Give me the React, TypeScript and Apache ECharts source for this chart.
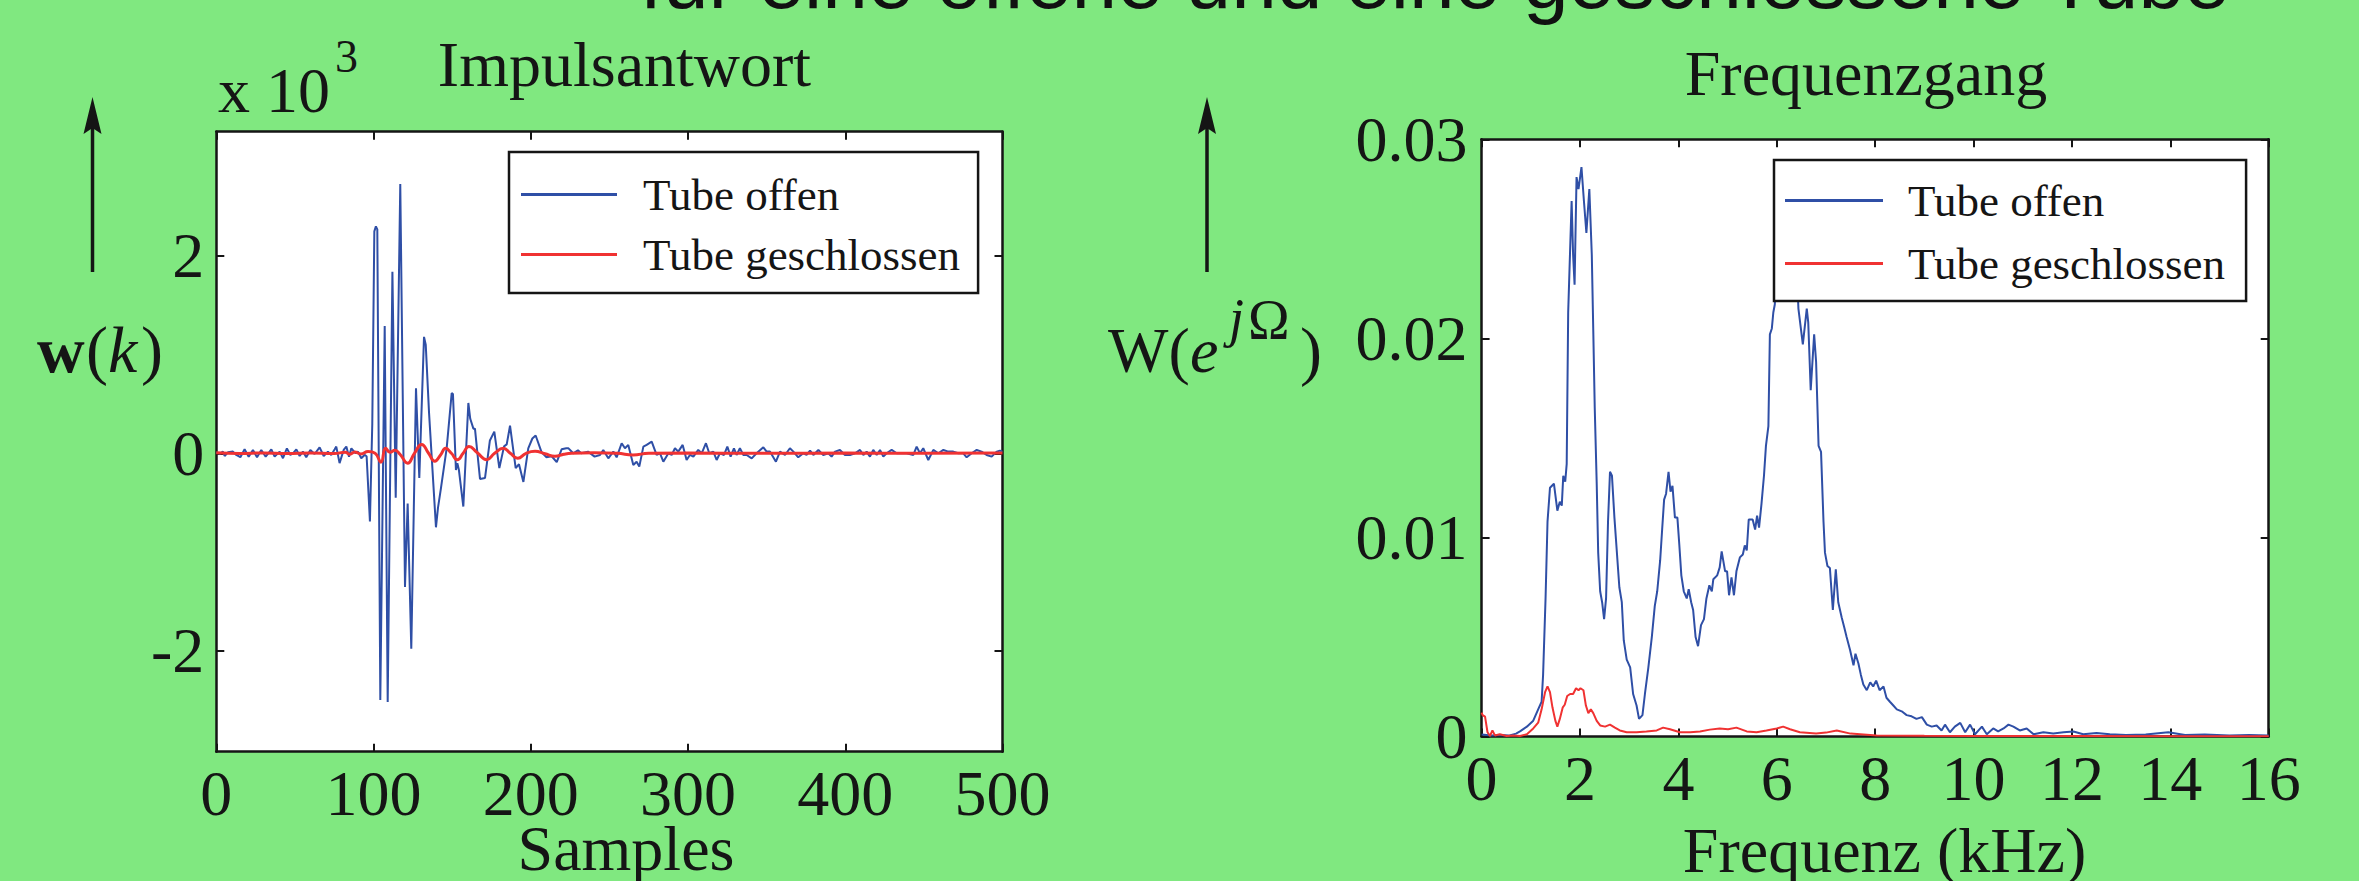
import React, { useEffect, useRef } from "react";
import * as echarts from "echarts";

// ---------- data ----------
// Impulsantwort, x = sample index, y = value (x 10^3)
const impulseOpen: [number, number][] = [
  [0, 0.01], [2.1, -0.007], [4.2, 0.017], [5.3, -0.027], [7.4, 0.01], [10.6, 0.017], [12.7, -0.017], [15.3, -0.04],
  [18, 0.04], [20.6, -0.034], [23.3, 0.034], [25.9, -0.04], [28.6, 0.034], [31.4, -0.034], [33.9, 0.017], [35, 0.04],
  [37.1, -0.034], [40.3, 0.017], [42.4, -0.05], [44.9, 0.05], [47.1, -0.017], [49.2, 0.007], [50.9, 0.04], [53, -0.027],
  [55.1, 0.017], [57.2, -0.04], [59.8, 0.034], [62.5, -0.007], [65.7, 0.06], [68.3, -0.027], [71, 0.017], [73.1, -0.017],
  [75.3, 0.04], [76.3, 0.068], [78.4, -0.1], [81, 0.034], [82.7, 0.068], [84.4, -0.034], [85.9, 0.05], [88.6, 0],
  [90.1, 0.017], [92.2, -0.05], [94.3, -0.017], [95.6, -0.03], [97.7, -0.69], [99.2, 0.3], [100.5, 2.25], [101.5, 2.3],
  [102.4, 2.27], [104.3, -2.5], [107.1, 1.29], [109, -2.52], [112, 1.84], [114.1, -0.45], [117, 2.73], [120, -1.355],
  [121.7, -0.51], [124, -1.98], [127, 0.66], [129.1, -0.25], [132.1, 1.18], [133.2, 1.1], [135.3, 0.41], [139.7, -0.75],
  [141, -0.55], [142.9, -0.35], [146.5, 0.05], [149.7, 0.61], [150.5, 0.6], [152.4, -0.17], [153.3, -0.1], [154.3, -0.17],
  [157.1, -0.54], [160.3, 0.51], [161.5, 0.35], [163.5, 0.25], [164.5, 0.25], [167.7, -0.26], [170.9, -0.25], [174, 0.13],
  [176.8, 0.22], [180, -0.15], [183, 0.07], [184.7, 0.09], [186.8, 0.28], [190.4, -0.15], [192.5, -0.11], [195.3, -0.29],
  [198.4, 0.05], [201, 0.15], [203.1, 0.18], [206.9, 0.01], [210, -0.04], [213.3, -0.03], [216.5, -0.09], [219.6, 0.04],
  [222.6, 0.051], [224, 0.05], [227, 0], [230, 0.03], [232.1, 0], [236.4, 0.017], [240.6, -0.034], [244, -0.017],
  [246.1, 0.034], [249.3, -0.051], [252.5, 0.017], [254.6, -0.041], [257.8, 0.102], [259.9, 0.051], [262, 0.085], [265.2, -0.118],
  [267.3, -0.085], [269, -0.135], [271.6, 0.068], [273.7, 0.085], [276.9, 0.118], [280, -0.017], [282.2, 0], [284.3, -0.085],
  [287.5, 0], [289.6, -0.017], [291.7, 0.051], [293.8, 0.017], [296.6, 0.085], [299.1, -0.068], [301.2, -0.017], [303.4, -0.034],
  [306.5, 0.034], [308.7, 0], [311.4, 0.102], [313.5, 0], [316.1, 0.017], [318.2, -0.068], [320.3, 0], [322.9, -0.017],
  [325, 0.068], [327.1, -0.034], [329.2, 0.051], [330.9, -0.017], [333, 0.051], [335.2, -0.017], [337.3, -0.017], [340.5, -0.051],
  [343.6, 0], [347.9, 0.061], [350, 0.017], [352.1, 0.017], [355.9, -0.085], [358.5, 0.017], [361.7, -0.017], [364.8, 0.051],
  [367, 0.017], [370.1, -0.041], [373.3, 0], [375.4, -0.017], [377.6, 0.027], [379.7, -0.017], [382.9, 0.034], [386, -0.017],
  [389.2, 0], [391.3, -0.034], [393.5, 0.017], [396.6, 0.034], [399.8, -0.017], [403, -0.017], [406.2, 0], [409.4, 0.034],
  [411.5, -0.017], [413.6, 0.017], [415.7, -0.034], [417.8, 0.034], [420, -0.017], [422.1, 0.034], [424.2, -0.034], [426.3, 0],
  [429.5, 0.034], [432.7, 0], [435.9, 0], [439, 0], [443.3, -0.017], [445.4, 0.068], [447.5, 0], [449.6, 0.051],
  [452.8, -0.068], [456, 0.034], [459.2, 0], [462.4, 0.034], [465.5, 0.017], [468.7, 0.017], [471.9, 0], [475.1, 0],
  [477.2, -0.041], [480.4, 0], [483.6, 0.034], [486.7, 0.017], [489.9, -0.017], [493.1, -0.034], [496.3, 0.017], [498.4, 0.027],
  [500, 0.017],
];
const impulseClosed: [number, number][] = [
  [0, 0.005], [15, -0.003], [30, 0.004], [45, -0.002], [60, 0.003], [75, -0.002], [82, 0.01], [85, -0.01],
  [88, 0.012], [92, -0.006], [96.5, 0.017], [101, 0], [104.7, -0.09], [107.7, 0.05], [110.5, 0.01], [113.6, 0.03],
  [116.8, -0.01], [121.7, -0.1], [126, 0], [130.6, 0.09], [135, 0], [139, -0.08], [142.5, -0.02], [145.9, 0.05],
  [149.5, 0], [153.3, -0.065], [157, 0], [160.7, 0.07], [166, 0.005], [172, -0.065], [177, 0], [182.5, 0.05],
  [187, 0], [191.7, -0.05], [197, 0], [202.7, 0.02], [209, -0.005], [215.4, -0.03], [221, -0.01], [226, 0],
  [240, 0.005], [255, 0], [265, -0.017], [275, 0], [300, 0.003], [350, 0], [400, 0.003], [450, 0], [500, 0.002],
];
const impulseYTicks = [-2, 0, 2];

// Frequenzgang, x = kHz, y = magnitude
const freqOpen: [number, number][] = [
  [0, 0.1e-3], [0.2, 0.05e-3], [0.4, 0.08e-3], [0.55, 0.05e-3], [0.7, 0.15e-3], [0.78, 0.26e-3], [0.92, 0.5e-3], [1.05, 0.8e-3],
  [1.15, 1.37e-3], [1.22, 1.75e-3], [1.25, 3.1e-3], [1.3, 6.94e-3], [1.34, 10.8e-3], [1.39, 12.5e-3], [1.47, 12.7e-3], [1.54, 11.35e-3],
  [1.59, 11.8e-3], [1.63, 11.6e-3], [1.66, 13.1e-3], [1.7, 12.8e-3], [1.73, 13.7e-3], [1.76, 21.3e-3], [1.83, 26.9e-3], [1.86, 24.2e-3],
  [1.89, 22.7e-3], [1.93, 28.1e-3], [1.97, 27.5e-3], [2.03, 28.6e-3], [2.08, 26.9e-3], [2.13, 25.3e-3], [2.19, 27.5e-3], [2.24, 24.2e-3],
  [2.27, 20.4e-3], [2.3, 16.5e-3], [2.34, 12.7e-3], [2.37, 9.24e-3], [2.41, 7.3e-3], [2.45, 6.75e-3], [2.49, 5.9e-3], [2.53, 6.94e-3],
  [2.57, 10.8e-3], [2.61, 13.3e-3], [2.65, 13.1e-3], [2.7, 11.0e-3], [2.74, 9.6e-3], [2.8, 7.5e-3], [2.85, 6.75e-3], [2.89, 4.83e-3],
  [2.95, 3.87e-3], [3.02, 3.48e-3], [3.08, 2.14e-3], [3.15, 1.56e-3], [3.2, 0.89e-3], [3.27, 1.08e-3], [3.32, 2.14e-3], [3.39, 3.48e-3],
  [3.46, 5.0e-3], [3.52, 6.55e-3], [3.57, 7.3e-3], [3.63, 8.86e-3], [3.67, 10.4e-3], [3.71, 11.9e-3], [3.75, 12.2e-3], [3.8, 13.3e-3],
  [3.84, 12.3e-3], [3.88, 12.6e-3], [3.93, 11.0e-3], [3.98, 11.0e-3], [4.02, 9.6e-3], [4.06, 8.1e-3], [4.11, 7.3e-3], [4.17, 6.94e-3],
  [4.21, 7.4e-3], [4.26, 6.75e-3], [4.3, 6.36e-3], [4.35, 5.0e-3], [4.4, 4.54e-3], [4.46, 5.6e-3], [4.52, 5.9e-3], [4.57, 6.94e-3],
  [4.63, 7.6e-3], [4.68, 7.3e-3], [4.71, 7.9e-3], [4.79, 8.1e-3], [4.84, 8.5e-3], [4.88, 9.3e-3], [4.95, 8.3e-3], [4.99, 8.3e-3],
  [5.03, 7.1e-3], [5.08, 8.0e-3], [5.13, 7.1e-3], [5.18, 8.3e-3], [5.25, 9.0e-3], [5.31, 9.15e-3], [5.35, 9.6e-3], [5.39, 9.35e-3],
  [5.43, 10.9e-3], [5.51, 10.9e-3], [5.56, 10.4e-3], [5.6, 11.1e-3], [5.64, 10.5e-3], [5.69, 11.7e-3], [5.74, 13.1e-3], [5.78, 14.6e-3],
  [5.83, 15.6e-3], [5.86, 20.2e-3], [5.9, 20.5e-3], [5.93, 21.3e-3], [5.96, 21.7e-3], [6.05, 25e-3], [6.15, 26.5e-3], [6.25, 25.5e-3],
  [6.35, 27e-3], [6.44, 21.5e-3], [6.53, 19.7e-3], [6.61, 21.5e-3], [6.64, 20.8e-3], [6.69, 17.4e-3], [6.76, 20.2e-3], [6.8, 18.8e-3],
  [6.85, 14.6e-3], [6.9, 14.3e-3], [6.95, 10.8e-3], [6.98, 9.24e-3], [7.03, 8.57e-3], [7.08, 8.47e-3], [7.14, 6.36e-3], [7.2, 8.4e-3],
  [7.25, 6.75e-3], [7.32, 5.98e-3], [7.37, 5.5e-3], [7.42, 5.0e-3], [7.49, 4.35e-3], [7.56, 3.58e-3], [7.6, 4.16e-3], [7.66, 3.67e-3],
  [7.71, 3.1e-3], [7.76, 2.62e-3], [7.83, 2.33e-3], [7.9, 2.72e-3], [7.96, 2.52e-3], [8.02, 2.81e-3], [8.09, 2.33e-3], [8.17, 2.52e-3],
  [8.23, 1.95e-3], [8.3, 1.75e-3], [8.37, 1.56e-3], [8.44, 1.37e-3], [8.54, 1.27e-3], [8.64, 1.08e-3], [8.74, 1.02e-3], [8.84, 0.89e-3],
  [8.95, 0.98e-3], [9.05, 0.6e-3], [9.15, 0.5e-3], [9.25, 0.56e-3], [9.35, 0.31e-3], [9.42, 0.6e-3], [9.52, 0.22e-3], [9.62, 0.5e-3],
  [9.73, 0.69e-3], [9.83, 0.22e-3], [9.93, 0.6e-3], [10.03, 0.12e-3], [10.17, 0.5e-3], [10.27, 0.12e-3], [10.4, 0.41e-3], [10.5, 0.26e-3],
  [10.61, 0.41e-3], [10.71, 0.6e-3], [10.81, 0.5e-3], [10.94, 0.31e-3], [11.08, 0.41e-3], [11.22, 0.12e-3], [11.42, 0.22e-3], [11.62, 0.16e-3],
  [11.83, 0.22e-3], [12.03, 0.26e-3], [12.23, 0.12e-3], [12.5, 0.18e-3], [12.77, 0.12e-3], [13.1, 0.08e-3], [13.5, 0.1e-3], [13.96, 0.22e-3],
  [14.3, 0.08e-3], [14.7, 0.1e-3], [15.2, 0.06e-3], [15.6, 0.08e-3], [16, 0.05e-3],
];
const freqClosed: [number, number][] = [
  [0, 1.2e-3], [0.02, 1.08e-3], [0.07, 1.0e-3], [0.12, 0.22e-3], [0.17, 0.03e-3], [0.22, 0.31e-3], [0.27, 0.06e-3], [0.37, 0.12e-3],
  [0.51, 0.03e-3], [0.64, 0.06e-3], [0.78, 0.03e-3], [0.92, 0.12e-3], [1.05, 0.41e-3], [1.15, 0.7e-3], [1.22, 1.37e-3], [1.29, 2.23e-3],
  [1.34, 2.52e-3], [1.39, 2.23e-3], [1.44, 1.47e-3], [1.5, 0.79e-3], [1.54, 0.5e-3], [1.59, 0.89e-3], [1.65, 1.47e-3], [1.69, 1.6e-3],
  [1.74, 2.04e-3], [1.8, 2.14e-3], [1.86, 2.14e-3], [1.92, 2.43e-3], [1.97, 2.33e-3], [2.01, 2.43e-3], [2.07, 2.33e-3], [2.12, 1.56e-3],
  [2.17, 1.18e-3], [2.22, 1.37e-3], [2.27, 1.18e-3], [2.34, 0.79e-3], [2.41, 0.56e-3], [2.51, 0.5e-3], [2.61, 0.6e-3], [2.71, 0.45e-3],
  [2.81, 0.31e-3], [2.95, 0.22e-3], [3.15, 0.22e-3], [3.35, 0.26e-3], [3.56, 0.31e-3], [3.69, 0.45e-3], [3.83, 0.37e-3], [4.03, 0.22e-3],
  [4.24, 0.22e-3], [4.44, 0.26e-3], [4.64, 0.35e-3], [4.84, 0.41e-3], [5.01, 0.37e-3], [5.18, 0.45e-3], [5.39, 0.26e-3], [5.59, 0.22e-3],
  [5.79, 0.31e-3], [6.0, 0.41e-3], [6.13, 0.5e-3], [6.27, 0.37e-3], [6.47, 0.22e-3], [6.8, 0.15e-3], [7.0, 0.2e-3], [7.22, 0.31e-3],
  [7.5, 0.15e-3], [8.03, 0.06e-3], [9, 0.04e-3], [10, 0.03e-3], [12, 0.03e-3], [14, 0.02e-3], [16, 0.02e-3],
];

const seriesNames = ["Tube offen", "Tube geschlossen"];
const headerText = "für eine offene und eine geschlossene Tube";

// ---------- styling ----------
const BG = "#80e880";
const INK = "#151515";
const BLUE = "#2f4fa6";
const RED = "#f03232";
const SERIF = "Liberation Serif";
const FS = 64;
const LH = 48;

function axisCommon(show: boolean) {
  return {
    type: "value" as const,
    axisLine: { show: true, onZero: false, lineStyle: { color: INK, width: 2.5 } },
    axisTick: { show: true, inside: true, length: 8, lineStyle: { color: INK, width: 2 } },
    axisLabel: {
      show,
      color: INK,
      fontFamily: SERIF,
      fontSize: FS,
      lineHeight: LH,
      showMinLabel: true,
      showMaxLabel: true,
    },
    splitLine: { show: false },
  };
}

function legendFor(left: number, top: number, pad: number[], gap: number, iw: number, txtPad: number) {
  return {
    left,
    top,
    orient: "vertical" as const,
    data: seriesNames,
    icon: "rect",
    itemWidth: iw,
    itemHeight: 3,
    itemGap: gap,
    padding: pad,
    backgroundColor: "#ffffff",
    borderColor: INK,
    borderWidth: 2.5,
    borderRadius: 0,
    selectedMode: false,
    itemStyle: { borderWidth: 0 },
    textStyle: {
      fontFamily: SERIF,
      fontSize: 45,
      color: INK,
      padding: [0, 0, 0, txtPad],
    },
  };
}

function serifText(text: string, x: number, y: number, size: number, align: string, extra: any = {}) {
  return {
    type: "text",
    silent: true,
    style: {
      text,
      x,
      y,
      fontFamily: SERIF,
      fontSize: size,
      lineHeight: Math.round(size * 0.75),
      fill: INK,
      textAlign: align,
      textVerticalAlign: "middle",
      ...extra,
    },
  };
}

function arrow(x: number) {
  return [
    { type: "line", silent: true, shape: { x1: x, y1: 125, x2: x, y2: 272 }, style: { stroke: INK, lineWidth: 3.5 } },
    {
      type: "polygon",
      silent: true,
      shape: { points: [[x, 97], [x - 9, 134], [x, 128], [x + 9, 134]] },
      style: { fill: INK },
    },
  ];
}

export default function App() {
  const ref = useRef<HTMLDivElement>(null);

  useEffect(() => {
    document.body.style.margin = "0";
    const chart = echarts.init(ref.current!, null, { renderer: "svg" });
    const option: any = {
      animation: false,
      backgroundColor: BG,
      grid: [
        { left: 216.3, top: 131.7, width: 786.2, height: 620, show: true, backgroundColor: "#ffffff", borderWidth: 0 },
        { left: 1481.6, top: 139.3, width: 787.1, height: 597.3, show: true, backgroundColor: "#ffffff", borderWidth: 0 },
      ],
      xAxis: [
        { ...axisCommon(true), gridIndex: 0, position: "bottom", min: 0, max: 500, interval: 100,
          axisLabel: { ...axisCommon(true).axisLabel, margin: 18 } },
        { ...axisCommon(false), gridIndex: 0, position: "top", min: 0, max: 500, interval: 100 },
        { ...axisCommon(true), gridIndex: 1, position: "bottom", min: 0, max: 16, interval: 2,
          axisLabel: { ...axisCommon(true).axisLabel, margin: 18 } },
        { ...axisCommon(false), gridIndex: 1, position: "top", min: 0, max: 16, interval: 2 },
      ],
      yAxis: [
        { ...axisCommon(true), gridIndex: 0, position: "left", min: -3.025, max: 3.26,
          axisTick: { ...axisCommon(true).axisTick, customValues: impulseYTicks },
          axisLabel: { ...axisCommon(true).axisLabel, margin: 12, customValues: impulseYTicks } },
        { ...axisCommon(false), gridIndex: 0, position: "right", min: -3.025, max: 3.26,
          axisTick: { ...axisCommon(false).axisTick, customValues: impulseYTicks },
          axisLabel: { show: false, customValues: impulseYTicks } },
        { ...axisCommon(true), gridIndex: 1, position: "left", min: 0, max: 0.03, interval: 0.01,
          axisLabel: { ...axisCommon(true).axisLabel, margin: 14,
            formatter: (v: number) => (v === 0 ? "0" : v.toFixed(2)) } },
        { ...axisCommon(false), gridIndex: 1, position: "right", min: 0, max: 0.03, interval: 0.01 },
      ],
      legend: [
        legendFor(509, 152, [20, 18, 16, 12], 15, 96, 21),
        legendFor(1774, 160, [18, 21, 15, 11], 18, 98, 20),
      ],
      series: [
        { name: seriesNames[0], type: "line", xAxisIndex: 0, yAxisIndex: 0, data: impulseOpen, showSymbol: false,
          lineStyle: { color: BLUE, width: 2 }, itemStyle: { color: BLUE }, z: 3 },
        { name: seriesNames[1], type: "line", xAxisIndex: 0, yAxisIndex: 0, data: impulseClosed, showSymbol: false,
          smooth: 0.5, lineStyle: { color: RED, width: 3 }, itemStyle: { color: RED }, z: 4 },
        { name: seriesNames[0], type: "line", xAxisIndex: 2, yAxisIndex: 2, data: freqOpen, showSymbol: false,
          lineStyle: { color: BLUE, width: 2 }, itemStyle: { color: BLUE }, z: 3 },
        { name: seriesNames[1], type: "line", xAxisIndex: 2, yAxisIndex: 2, data: freqClosed, showSymbol: false,
          lineStyle: { color: RED, width: 2 }, itemStyle: { color: RED }, z: 3 },
      ],
      graphic: [
        {
          type: "text",
          silent: true,
          style: {
            text: headerText,
            x: 640,
            y: -21,
            fontFamily: "Liberation Sans",
            fontSize: 82,
            lineHeight: 60,
            fill: "#111",
            textAlign: "left",
            textVerticalAlign: "middle",
          },
        },
        serifText("Impulsantwort", 624.5, 64.4, FS, "center"),
        serifText("Frequenzgang", 1866, 73.4, FS, "center"),
        serifText("Samples", 626, 848.8, FS, "center"),
        serifText("Frequenz (kHz)", 1884.5, 850.6, FS, "center"),
        serifText("x 10", 218, 90.1, FS, "left"),
        serifText("3", 335, 56.2, 46, "left"),
        ...arrow(92.5),
        ...arrow(1207),
        serifText("w", 37, 349.7, 66, "left", { fontWeight: "bold" }),
        serifText("(", 86, 349.7, 66, "left"),
        serifText("k", 108, 349.7, 66, "left", { fontStyle: "italic" }),
        serifText(")", 141, 349.7, 66, "left"),
        serifText("W(", 1108, 350.4, 64, "left"),
        serifText("e", 1190, 350.4, 64, "left", { fontStyle: "italic" }),
        serifText("j", 1229, 318, 54, "left", { fontStyle: "italic" }),
        serifText("Ω", 1248, 320, 56, "left"),
        serifText(")", 1300, 350.4, 66, "left"),
      ],
    };
    chart.setOption(option);
    return () => chart.dispose();
  }, []);

  return (
    <div
      ref={ref}
      style={{ position: "absolute", left: 0, top: 0, width: 2359, height: 881 }}
    />
  );
}
